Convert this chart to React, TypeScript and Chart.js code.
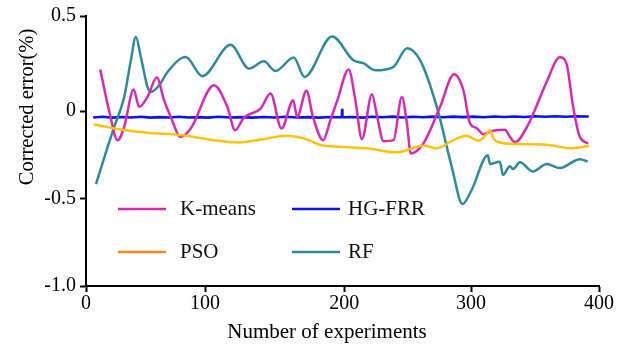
import React, { useEffect, useRef } from 'react';
import { Chart, LinearScale, registerables } from 'chart.js';

// ---------------- data ----------------
const seriesNames = ['K-means', 'HG-FRR', 'PSO', 'RF'];

const kmeansX = [12, 19.3, 26.6, 32.1, 40, 44.7, 51.7, 59.5, 65.6, 71.2, 79.6, 88, 106.4, 116, 121.6, 127.9, 139.9, 147, 154.9, 163.3, 166.1, 172.8, 177.5, 184.8, 190, 195, 203.4, 208.7, 213.9, 221.8, 225.7, 230.9, 238.8, 245.4, 249.4, 252.5, 262.4, 275.6, 286.6, 294, 299.2, 304.4, 309.6, 317.4, 326.5, 330.4, 334.3, 344.5, 359, 369.4, 374.6, 379.8, 385, 391.5];
const kmeansY = [0.219, 0.005, -0.166, -0.09, 0.114, 0.023, 0.075, 0.177, 0.058, -0.033, -0.147, -0.099, 0.136, 0.023, -0.109, -0.037, 0.014, 0.093, -0.099, 0.058, -0.034, 0.108, -0.033, -0.166, -0.051, 0.058, 0.219, 0.058, -0.16, 0.089, -0.023, -0.172, -0.166, 0.075, -0.07, -0.242, -0.185, 0.023, 0.194, 0.11, -0.07, -0.097, -0.132, -0.112, -0.106, -0.147, -0.178, -0.08, 0.152, 0.283, 0.25, 0.023, -0.147, -0.185];

const hgfrrX = [6, 14, 22, 30, 38, 46, 54, 62, 70, 78, 86, 94, 102, 110, 118, 126, 134, 142, 150, 158, 166, 174, 182, 190, 198.2, 198.4, 198.6, 206, 214, 222, 230, 238, 246, 254, 262, 270, 278, 286, 294, 302, 310, 318, 326, 334, 342, 350, 358, 366, 374, 382, 392];
const hgfrrY = [-0.036, -0.032, -0.037, -0.033, -0.036, -0.032, -0.037, -0.034, -0.036, -0.032, -0.036, -0.034, -0.037, -0.032, -0.036, -0.034, -0.037, -0.033, -0.036, -0.032, -0.036, -0.034, -0.037, -0.033, -0.035, 0.012, -0.035, -0.033, -0.037, -0.032, -0.035, -0.031, -0.036, -0.032, -0.035, -0.031, -0.035, -0.031, -0.034, -0.031, -0.035, -0.030, -0.033, -0.030, -0.033, -0.029, -0.032, -0.029, -0.032, -0.029, -0.030];

const psoX = [6.5, 23.7, 51.7, 79.6, 106.4, 123.2, 137.5, 159, 173.3, 182.8, 197.1, 217.9, 241.5, 262.4, 273, 286.1, 296.6, 305.7, 312.3, 314.8, 317.9, 322.6, 340.8, 359, 377.2, 392.2];
const psoY = [-0.076, -0.099, -0.124, -0.137, -0.166, -0.179, -0.166, -0.141, -0.162, -0.194, -0.204, -0.213, -0.236, -0.198, -0.213, -0.166, -0.141, -0.17, -0.132, -0.109, -0.16, -0.179, -0.189, -0.192, -0.212, -0.2];

const rfX = [8.4, 18.2, 23.7, 32.1, 37.7, 41.9, 46.1, 51.7, 54.5, 61.5, 68.5, 83.8, 97.8, 118.4, 131.5, 142.2, 150.6, 163.7, 171.4, 191.2, 207.1, 215, 224.4, 238.6, 249.6, 259.8, 273, 284.8, 293.3, 300.5, 313.2, 314.8, 322.6, 324.9, 330.4, 332.7, 338.2, 348.3, 359.2, 369.4, 385, 391.2];
const rfY = [-0.418, -0.204, -0.09, 0.075, 0.268, 0.39, 0.285, 0.127, 0.101, 0.136, 0.206, 0.285, 0.184, 0.349, 0.224, 0.262, 0.211, 0.282, 0.18, 0.392, 0.268, 0.252, 0.215, 0.232, 0.331, 0.268, 0.023, -0.319, -0.532, -0.452, -0.252, -0.303, -0.29, -0.366, -0.315, -0.332, -0.293, -0.346, -0.303, -0.326, -0.275, -0.289];

const xTicks = [0, 100, 200, 300, 400];
const yTicks = [-1, -0.5, 0, 0.5];

// ---------------- styles / layout ----------------
const lineColors = ['#D42AB6', '#0A12F2', '#FFC20E', '#2F8A9A'];
const legendColors = ['#D42AB6', '#0A12F2', '#F5891F', '#2F8A9A'];
const FONT = "'Liberation Serif', 'Times New Roman', serif";

// the reference axes are not evenly spaced: fraction of axis length at each tick
const xTickFractions = [0, 0.232, 0.5036, 0.7505, 1];
const yTickFractions = [0, 0.3245, 0.6474, 1];

function piece(v: number, vals: number[], fr: number[]) {
  let i = 0;
  while (i < vals.length - 2 && v > vals[i + 1]) i++;
  const t = (v - vals[i]) / (vals[i + 1] - vals[i]);
  return fr[i] + t * (fr[i + 1] - fr[i]);
}
function unpiece(d: number, vals: number[], fr: number[]) {
  let i = 0;
  while (i < fr.length - 2 && d > fr[i + 1]) i++;
  const t = (d - fr[i]) / (fr[i + 1] - fr[i]);
  return vals[i] + t * (vals[i + 1] - vals[i]);
}

class PiecewiseScale extends LinearScale {
  static id = 'piecewise';
  getPixelForValue(value: number) {
    if (value === null || value === undefined || isNaN(value)) return NaN;
    const isX = (this as any).axis === 'x';
    const d = isX ? piece(value, xTicks, xTickFractions) : piece(value, yTicks, yTickFractions);
    return (this as any).getPixelForDecimal(d);
  }
  getValueForPixel(pixel: number) {
    const isX = (this as any).axis === 'x';
    const d = (this as any).getDecimalForPixel(pixel);
    return isX ? unpiece(d, xTicks, xTickFractions) : unpiece(d, yTicks, yTickFractions);
  }
}

Chart.register(...registerables, PiecewiseScale as any);

const toPoints = (xs: number[], ys: number[]) => xs.map((x, i) => ({ x, y: ys[i] }));

const overlayPlugin = {
  id: 'overlay',
  afterDraw(chart: any) {
    const ctx = chart.ctx as CanvasRenderingContext2D;
    ctx.save();
    ctx.fillStyle = '#000';
    // axis titles
    ctx.font = `21px ${FONT}`;
    ctx.textAlign = 'center';
    ctx.textBaseline = 'middle';
    ctx.fillText('Number of experiments', 327, 332);
    ctx.save();
    ctx.translate(28, 107);
    ctx.rotate(-Math.PI / 2);
    ctx.font = `20.5px ${FONT}`;
    ctx.fillText('Corrected error(%)', 0, 0);
    ctx.restore();
    // legend
    const entries = [
      { i: 0, lx: 118, tx: 180, y: 209 },
      { i: 1, lx: 292, tx: 348, y: 209 },
      { i: 2, lx: 118, tx: 180, y: 252 },
      { i: 3, lx: 292, tx: 348, y: 252 },
    ];
    ctx.font = `21px ${FONT}`;
    ctx.textAlign = 'left';
    for (const e of entries) {
      ctx.strokeStyle = legendColors[e.i];
      ctx.lineWidth = 2.5;
      ctx.beginPath();
      ctx.moveTo(e.lx, e.y);
      ctx.lineTo(e.lx + 48, e.y);
      ctx.stroke();
      ctx.fillStyle = '#111';
      ctx.fillText(seriesNames[e.i], e.tx, e.y);
    }
    ctx.restore();
  },
};

export default function App() {
  const ref = useRef<HTMLCanvasElement>(null);
  useEffect(() => {
    if (!ref.current) return;
    const data = [toPoints(kmeansX, kmeansY), toPoints(hgfrrX, hgfrrY), toPoints(psoX, psoY), toPoints(rfX, rfY)];
    const order = [2, 0, 3, 1];
    const chart = new Chart(ref.current, {
      type: 'line',
      data: {
        datasets: order.map((i) => ({
          label: seriesNames[i],
          data: data[i],
          borderColor: lineColors[i],
          borderWidth: i === 1 ? 2.6 : 2.5,
          borderJoinStyle: i === 1 ? 'bevel' : 'round',
          pointRadius: 0,
          fill: false,
          tension: i === 1 ? 0 : 0.4,
          cubicInterpolationMode: i === 1 ? 'default' : 'monotone',
        })) as any,
      },
      options: {
        animation: false,
        responsive: true,
        maintainAspectRatio: false,
        layout: { padding: { left: 0, top: 16, right: 26, bottom: 0 } },
        plugins: { legend: { display: false }, tooltip: { enabled: false } },
        scales: {
          x: {
            type: 'piecewise' as any,
            min: 0,
            max: 400,
            afterBuildTicks: (s: any) => {
              s.ticks = xTicks.map((v) => ({ value: v }));
            },
            afterFit: (s: any) => {
              s.height = 59;
            },
            grid: { drawOnChartArea: false, drawTicks: true, tickLength: 6, tickColor: '#000', tickWidth: 2 },
            border: { display: true, color: '#000', width: 2 },
            ticks: { color: '#000', font: { family: FONT, size: 20 }, padding: 0, maxRotation: 0, autoSkip: false, callback: (v: any) => String(v) },
          },
          y: {
            type: 'piecewise' as any,
            min: -1,
            max: 0.5,
            afterBuildTicks: (s: any) => {
              s.ticks = yTicks.map((v) => ({ value: v }));
            },
            afterFit: (s: any) => {
              s.width = 86;
            },
            grid: { drawOnChartArea: false, drawTicks: true, tickLength: 6, tickColor: '#000', tickWidth: 2 },
            border: { display: true, color: '#000', width: 2 },
            ticks: {
              color: '#000',
              font: { family: FONT, size: 20 },
              padding: 4,
              autoSkip: false,
              callback: (v: any) => (v === 0 ? '0' : Number(v).toFixed(1)),
            },
          },
        },
      },
      plugins: [overlayPlugin],
    });
    return () => chart.destroy();
  }, []);
  return (
    <div style={{ position: 'fixed', left: 0, top: 0, width: 625, height: 345, background: '#fff' }}>
      <canvas ref={ref} />
    </div>
  );
}
